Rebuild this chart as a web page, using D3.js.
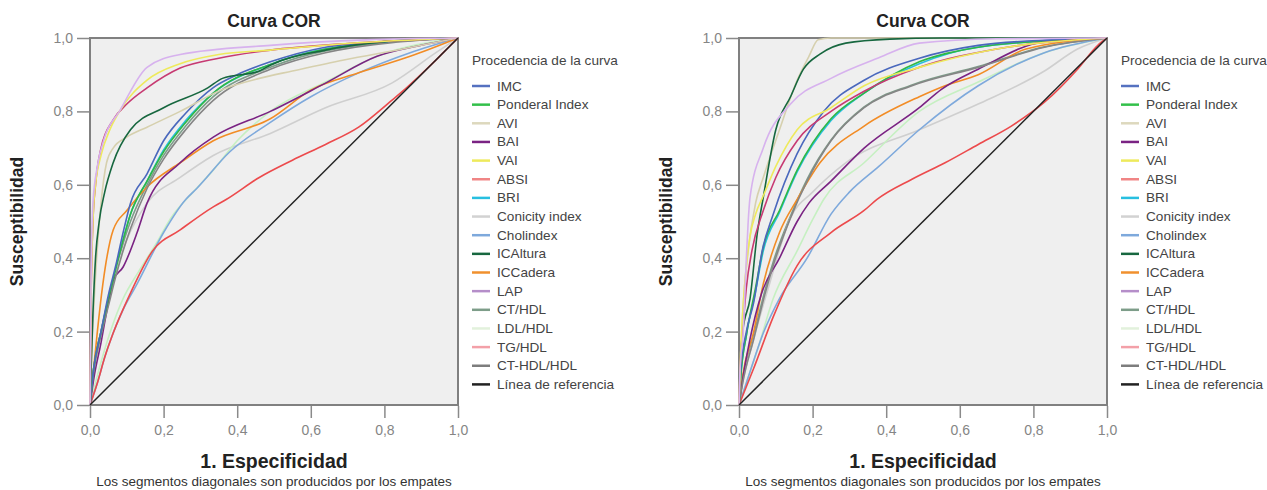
<!DOCTYPE html>
<html>
  <head>
    <meta charset="utf-8">
    <title>Curva COR</title>
    <script src="https://cdn.jsdelivr.net/npm/d3@7"></script>
	<style>
body {
  margin: 0;
  background: #fff;
  font-family: "Liberation Sans", Arial, sans-serif;
}
.frame {
  fill: #efefef;
  stroke: #808080;
  stroke-width: 2px;
}
.axis path { display: none; }
.axis line { stroke: #8a8a8a; stroke-width: 1.5px; }
.axis text { fill: #858585; font-size: 14px; }
.curve { fill: none; stroke-width: 1.6px; stroke-linejoin: round; }
.leg { fill: #444; font-size: 13.6px; }
.titulo { font-weight: bold; font-size: 17.5px; fill: #222; }
	</style>
  </head>
  <body>
<script>

// names + colours of the series (legend order)
var series = ["IMC", "Ponderal Index", "AVI", "BAI", "VAI", "ABSI", "BRI", "Conicity index",
  "Cholindex", "ICAltura", "ICCadera", "LAP", "CT/HDL", "LDL/HDL", "TG/HDL", "CT-HDL/HDL", "Línea de referencia"];
var colors = ["#4a68bd", "#2fb845", "#d6d0ae", "#7a2383", "#eeea5c", "#ec4a4c", "#27bfe0", "#cfcfcf",
  "#7ea9dc", "#17673f", "#f28c25", "#d7b2ee", "#7d9d89", "#c6f0c2", "#c73a72", "#858585", "#222222"];
var legendColors = ["#5571c0", "#33c04a", "#ddd8bd", "#7a2383", "#eeea5c", "#f08585", "#27bfe0", "#d2d2d2",
  "#7ea9dc", "#17673f", "#f0902e", "#b58ec9", "#7d9d89", "#e2f1dc", "#f3a0a8", "#7d7d7d", "#222222"];
var drawOrder = [6, 12, 7, 13, 8, 5, 10, 3, 15, 1, 0, 2, 9, 14, 4, 11, 16];

var ticks = [0, 0.2, 0.4, 0.6, 0.8, 1.0];

// left chart: [1-especificidad, susceptibilidad]
var leftIMC = [[0,0],[0.01,0.1],[0.03,0.2],[0.05,0.3],[0.07,0.38],[0.09,0.47],[0.11,0.55],[0.155,0.63],[0.2,0.72],[0.26,0.795],[0.335,0.865],[0.4,0.9],[0.49,0.935],[0.64,0.975],[0.8,0.99],[1,1]];
var leftPonderal = [[0,0],[0.01,0.1],[0.03,0.2],[0.05,0.29],[0.07,0.37],[0.09,0.45],[0.11,0.52],[0.155,0.61],[0.2,0.69],[0.26,0.77],[0.335,0.85],[0.49,0.928],[0.64,0.97],[0.8,0.99],[1,1]];
var leftAVI = [[0,0],[0.005,0.15],[0.015,0.35],[0.03,0.55],[0.045,0.66],[0.063,0.70],[0.1,0.73],[0.155,0.757],[0.245,0.80],[0.36,0.86],[0.46,0.89],[0.55,0.91],[0.69,0.94],[0.85,0.97],[1,1]];
var leftBAI = [[0,0],[0.01,0.07],[0.03,0.17],[0.05,0.28],[0.063,0.34],[0.09,0.376],[0.128,0.47],[0.155,0.55],[0.245,0.66],[0.335,0.73],[0.49,0.80],[0.64,0.877],[0.78,0.95],[0.9,0.98],[1,1]];
var leftVAI = [[0,0],[0.003,0.3],[0.008,0.5],[0.015,0.6],[0.03,0.68],[0.054,0.75],[0.08,0.8],[0.155,0.885],[0.245,0.93],[0.35,0.955],[0.49,0.967],[0.7,0.985],[1,1]];
var leftABSI = [[0,0],[0.02,0.06],[0.04,0.13],[0.063,0.196],[0.11,0.305],[0.17,0.42],[0.245,0.477],[0.335,0.54],[0.37,0.56],[0.46,0.62],[0.55,0.667],[0.64,0.71],[0.73,0.757],[0.82,0.83],[0.86,0.864],[0.93,0.93],[0.96,0.96],[1,1]];
var leftBRI = [[0,0],[0.01,0.1],[0.03,0.2],[0.05,0.29],[0.07,0.37],[0.09,0.45],[0.11,0.52],[0.155,0.61],[0.2,0.695],[0.26,0.775],[0.335,0.85],[0.49,0.928],[0.64,0.97],[1,1]];
var leftConicity = [[0,0],[0.01,0.08],[0.03,0.2],[0.06,0.33],[0.1,0.45],[0.155,0.55],[0.245,0.62],[0.335,0.68],[0.49,0.74],[0.64,0.81],[0.82,0.877],[0.94,0.96],[1,1]];
var leftCholindex = [[0,0],[0.02,0.06],[0.04,0.13],[0.063,0.196],[0.09,0.26],[0.128,0.33],[0.2,0.47],[0.26,0.56],[0.29,0.59],[0.38,0.69],[0.49,0.77],[0.6,0.84],[0.73,0.905],[0.87,0.96],[1,1]];
var leftICAltura = [[0,0],[0.003,0.1],[0.008,0.25],[0.015,0.4],[0.025,0.5],[0.04,0.58],[0.063,0.66],[0.11,0.75],[0.2,0.81],[0.32,0.864],[0.36,0.89],[0.46,0.91],[0.49,0.926],[0.64,0.967],[0.8,0.99],[1,1]];
var leftICCadera = [[0,0],[0.01,0.1],[0.02,0.2],[0.035,0.33],[0.063,0.477],[0.1,0.53],[0.155,0.594],[0.245,0.66],[0.335,0.72],[0.49,0.78],[0.6,0.858],[0.73,0.905],[0.87,0.95],[1,1]];
var leftLAP = [[0,0],[0.003,0.35],[0.008,0.55],[0.02,0.65],[0.04,0.73],[0.08,0.80],[0.155,0.92],[0.245,0.955],[0.49,0.98],[0.75,0.995],[1,1]];
var leftCTHDL = [[0,0],[0.01,0.1],[0.03,0.2],[0.05,0.28],[0.07,0.36],[0.09,0.44],[0.11,0.5],[0.155,0.6],[0.2,0.68],[0.26,0.76],[0.335,0.84],[0.49,0.92],[0.64,0.965],[1,1]];
var leftLDLHDL = [[0,0],[0.02,0.08],[0.054,0.196],[0.09,0.29],[0.13,0.36],[0.18,0.44],[0.22,0.51],[0.28,0.58],[0.335,0.64],[0.4,0.72],[0.49,0.80],[0.64,0.88],[0.78,0.95],[1,1]];
var leftTGHDL = [[0,0],[0.003,0.3],[0.008,0.5],[0.015,0.6],[0.03,0.7],[0.063,0.777],[0.1,0.82],[0.155,0.864],[0.245,0.918],[0.35,0.945],[0.49,0.967],[0.7,0.985],[1,1]];
var leftNoHDL = [[0,0],[0.01,0.09],[0.03,0.19],[0.05,0.27],[0.07,0.35],[0.09,0.42],[0.11,0.48],[0.155,0.59],[0.2,0.67],[0.26,0.75],[0.335,0.83],[0.49,0.915],[0.64,0.96],[1,1]];

// right chart
var rightIMC = [[0,0],[0.005,0.1],[0.02,0.2],[0.04,0.28],[0.063,0.42],[0.093,0.52],[0.158,0.685],[0.23,0.80],[0.34,0.885],[0.49,0.945],[0.65,0.98],[0.85,0.995],[1,1]];
var rightPonderal = [[0,0],[0.005,0.08],[0.02,0.19],[0.045,0.32],[0.066,0.43],[0.11,0.53],[0.158,0.64],[0.25,0.78],[0.34,0.85],[0.49,0.935],[0.65,0.975],[0.85,0.993],[1,1]];
var rightAVI = [[0,0],[0.003,0.1],[0.01,0.25],[0.025,0.42],[0.045,0.55],[0.066,0.62],[0.11,0.75],[0.158,0.885],[0.19,0.95],[0.215,0.995],[0.25,1],[1,1]];
var rightBAI = [[0,0],[0.01,0.07],[0.03,0.18],[0.06,0.3],[0.11,0.4],[0.158,0.5],[0.19,0.55],[0.25,0.61],[0.34,0.70],[0.49,0.81],[0.55,0.86],[0.65,0.915],[0.83,0.99],[1,1]];
var rightVAI = [[0,0],[0.003,0.1],[0.01,0.25],[0.02,0.38],[0.03,0.46],[0.045,0.52],[0.066,0.57],[0.1,0.65],[0.158,0.75],[0.25,0.81],[0.34,0.87],[0.49,0.92],[0.7,0.97],[1,1]];
var rightABSI = [[0,0],[0.04,0.10],[0.093,0.24],[0.158,0.38],[0.25,0.47],[0.34,0.53],[0.375,0.56],[0.47,0.615],[0.56,0.66],[0.65,0.71],[0.74,0.76],[0.83,0.825],[0.92,0.915],[0.975,0.98],[1,1]];
var rightBRI = [[0,0],[0.005,0.08],[0.02,0.19],[0.045,0.31],[0.066,0.42],[0.11,0.525],[0.158,0.635],[0.25,0.775],[0.34,0.85],[0.49,0.93],[0.65,0.975],[1,1]];
var rightConicity = [[0,0],[0.01,0.06],[0.04,0.18],[0.08,0.32],[0.14,0.51],[0.2,0.58],[0.29,0.66],[0.49,0.75],[0.65,0.82],[0.83,0.91],[0.92,0.97],[1,1]];
var rightCholindex = [[0,0],[0.02,0.06],[0.066,0.196],[0.11,0.29],[0.185,0.40],[0.25,0.52],[0.3,0.58],[0.38,0.65],[0.49,0.75],[0.65,0.87],[0.83,0.96],[1,1]];
var rightICAltura = [[0,0],[0.003,0.1],[0.01,0.2],[0.03,0.29],[0.05,0.47],[0.066,0.566],[0.1,0.75],[0.14,0.84],[0.175,0.915],[0.22,0.956],[0.29,0.986],[0.41,0.997],[0.55,1],[1,1]];
var rightICCadera = [[0,0],[0.01,0.08],[0.04,0.2],[0.066,0.33],[0.11,0.47],[0.158,0.56],[0.22,0.66],[0.34,0.76],[0.49,0.84],[0.56,0.87],[0.65,0.90],[0.78,0.97],[1,1]];
var rightLAP = [[0,0],[0.003,0.1],[0.011,0.19],[0.02,0.4],[0.025,0.5],[0.03,0.566],[0.066,0.70],[0.14,0.82],[0.25,0.89],[0.38,0.946],[0.49,0.986],[0.7,0.998],[1,1]];
var rightCTHDL = [[0,0],[0.01,0.065],[0.04,0.19],[0.07,0.31],[0.093,0.39],[0.14,0.515],[0.185,0.615],[0.25,0.722],[0.34,0.812],[0.47,0.872],[0.65,0.922],[0.83,0.976],[1,1]];
var rightLDLHDL = [[0,0],[0.02,0.06],[0.05,0.15],[0.093,0.29],[0.158,0.42],[0.2,0.505],[0.23,0.56],[0.34,0.66],[0.49,0.80],[0.65,0.88],[0.83,0.96],[1,1]];
var rightTGHDL = [[0,0],[0.003,0.1],[0.01,0.2],[0.02,0.32],[0.035,0.42],[0.066,0.53],[0.1,0.62],[0.158,0.72],[0.25,0.80],[0.34,0.855],[0.49,0.92],[0.7,0.97],[1,1]];
var rightNoHDL = [[0,0],[0.01,0.06],[0.04,0.18],[0.07,0.3],[0.093,0.38],[0.14,0.51],[0.185,0.61],[0.25,0.72],[0.34,0.81],[0.47,0.87],[0.65,0.92],[0.83,0.975],[1,1]];

var reference = [[0,0],[1,1]];

var leftData = [leftIMC, leftPonderal, leftAVI, leftBAI, leftVAI, leftABSI, leftBRI, leftConicity, leftCholindex,
  leftICAltura, leftICCadera, leftLAP, leftCTHDL, leftLDLHDL, leftTGHDL, leftNoHDL, reference];
var rightData = [rightIMC, rightPonderal, rightAVI, rightBAI, rightVAI, rightABSI, rightBRI, rightConicity, rightCholindex,
  rightICAltura, rightICCadera, rightLAP, rightCTHDL, rightLDLHDL, rightTGHDL, rightNoHDL, reference];

var svg = d3.select("body").append("svg")
    .attr("width", 1267)
    .attr("height", 490);

function fmt(d) { return d3.format(".1f")(d).replace(".", ","); }

function chart(left, data) {
  var x0 = left, x1 = left + 368, y0 = 38, y1 = 405;

  var x = d3.scaleLinear().domain([0, 1]).range([x0, x1]);
  var y = d3.scaleLinear().domain([0, 1]).range([y1, y0]);

  var line = d3.line()
    .x(function(d) { return x(d[0]); })
    .y(function(d) { return y(d[1]); })
    .curve(d3.curveMonotoneX);

  svg.append("rect")
    .attr("class", "frame")
    .attr("x", x0).attr("y", y0)
    .attr("width", x1 - x0).attr("height", y1 - y0);

  svg.append("g")
    .attr("class", "axis")
    .attr("transform", "translate(" + (x0 - 1) + ",0)")
    .call(d3.axisLeft(y).tickValues(ticks).tickFormat(fmt).tickSize(12).tickPadding(4));

  svg.append("g")
    .attr("class", "axis")
    .attr("transform", "translate(0," + (y1 + 1) + ")")
    .call(d3.axisBottom(x).tickValues(ticks).tickFormat(fmt).tickSize(12).tickPadding(7));

  var plot = svg.append("g");
  drawOrder.forEach(function(i) {
    plot.append("path")
      .datum(data[i])
      .attr("class", "curve")
      .style("stroke", colors[i])
      .style("stroke-width", i == 16 ? 1.5 : 1.6)
      .attr("d", line);
  });

  svg.append("text")
    .attr("class", "titulo")
    .attr("x", (x0 + x1) / 2)
    .attr("y", 27)
    .attr("text-anchor", "middle")
    .text("Curva COR");

  svg.append("text")
    .attr("class", "titulo")
    .attr("transform", "translate(" + (x0 - 67) + "," + ((y0 + y1) / 2) + ") rotate(-90)")
    .attr("text-anchor", "middle")
    .text("Susceptibilidad");

  svg.append("text")
    .attr("class", "titulo")
    .style("font-size", "19.5px")
    .attr("x", (x0 + x1) / 2)
    .attr("y", 468)
    .attr("text-anchor", "middle")
    .text("1. Especificidad");

  svg.append("text")
    .attr("x", (x0 + x1) / 2)
    .attr("y", 486)
    .attr("text-anchor", "middle")
    .style("font-size", "13.5px")
    .style("fill", "#333")
    .text("Los segmentos diagonales son producidos por los empates");

  // legend
  var lx = x1 + 14;
  svg.append("text")
    .attr("class", "leg")
    .attr("x", lx).attr("y", 65)
    .text("Procedencia de la curva");

  var items = svg.append("g").selectAll("g")
    .data(series)
    .enter().append("g")
    .attr("transform", function(d, i) { return "translate(" + lx + "," + (86 + i * 18.65) + ")"; });

  items.append("line")
    .attr("x1", 0).attr("x2", 18)
    .style("stroke", function(d, i) { return legendColors[i]; })
    .style("stroke-width", 2.5);

  items.append("text")
    .attr("class", "leg")
    .attr("x", 25).attr("y", 4.5)
    .text(function(d) { return d; });
}

chart(90, leftData);
chart(739, rightData);

</script>
  </body>
</html>
